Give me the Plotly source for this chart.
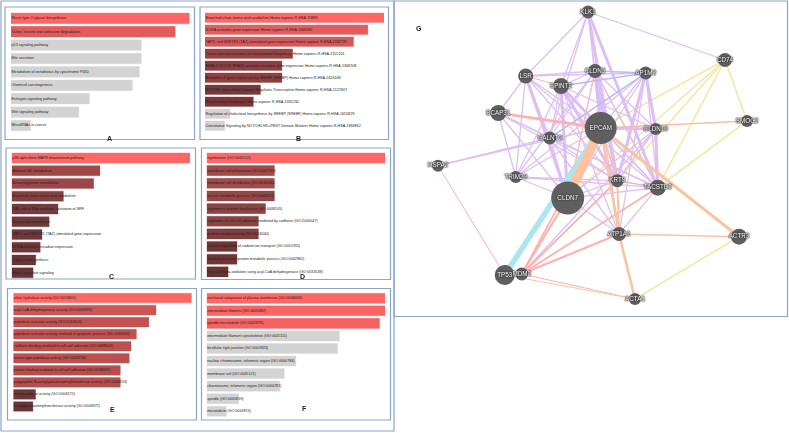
import plotly.graph_objects as go

W, H = 789, 433
RED = "#ff6666"
GREY = "#d3d3d3"

labels_a = ["Mucin type O-glycan biosynthesis", "Valine, leucine and isoleucine degradation", "p53 signaling pathway", "Bile secretion", "Metabolism of xenobiotics by cytochrome P450", "Chemical carcinogenesis", "Estrogen signaling pathway", "Wnt signaling pathway", "MicroRNAs in cancer"]
values_a = [100, 92, 73, 73, 72, 68, 44, 38, 11]
colors_a = [RED, "#e25c5c"] + [GREY] * 7

labels_b = ["Branched-chain amino acid catabolism Homo sapiens R-HSA-70895", "RORA activates gene expression Homo sapiens R-HSA-1368082", "YAP1- and WWTR1 (TAZ)-stimulated gene expression Homo sapiens R-HSA-2032785", "Transcriptional activation of mitochondrial biogenesis Homo sapiens R-HSA-2151201", "BMAL1:CLOCK,NPAS2 activates circadian gene expression Homo sapiens R-HSA-1368108", "Activation of gene expression by SREBF (SREBP) Homo sapiens R-HSA-2426168", "NOTCH1 Intracellular Domain Regulates Transcription Homo sapiens R-HSA-2122947", "Mitochondrial biogenesis Homo sapiens R-HSA-1592230", "Regulation of cholesterol biosynthesis by SREBP (SREBF) Homo sapiens R-HSA-1655829", "Constitutive Signaling by NOTCH1 HD+PEST Domain Mutants Homo sapiens R-HSA-1894862"]
values_b = [100, 91, 83, 49, 43, 43, 31, 27, 14, 11]
colors_b = [RED, "#e35d5e", "#d45859", "#9a4345", "#8c4044", "#8f3f40", "#753a3d", "#7d3538", GREY, GREY]

labels_c = ["p38 alpha/beta MAPK downstream pathway", "Aflatoxin B1 metabolism", "Benzo(a)pyrene metabolism", "Branched-chain amino acid catabolism", "MAL role in Rho-mediated activation of SRF", "Eicosanoid metabolism", "YAP1- and WWTR1 (TAZ)-stimulated gene expression", "RORA activates circadian expression", "O-glycan biosynthesis", "Alpha-synuclein signaling"]
values_c = [100, 49.5, 46, 29, 26, 21, 17, 16, 13.5, 12]
colors_c = [RED, "#a04848", "#9b4648", "#84403f", "#753c3e", "#703a3a", "#6f3739", "#6e3738", "#6b3537", "#683436"]

labels_d = ["myelination (GO:0042552)", "membrane raft polarization (GO:0001766)", "membrane raft distribution (GO:0031580)", "leucine metabolic process (GO:0006551)", "asymmetric protein localization (GO:0008105)", "regulation of cell-cell adhesion mediated by cadherin (GO:2000047)", "protein autoprocessing (GO:0016540)", "positive regulation of sodium ion transport (GO:0010765)", "amyloid precursor protein metabolic process (GO:0042982)", "fatty acid beta-oxidation using acyl-CoA dehydrogenase (GO:0033539)"]
values_d = [100, 38, 38, 38, 33, 29, 29, 17, 17, 12]
colors_d = [RED, "#a04a4a", "#a04a4a", "#964646", "#8a4444", "#884343", "#7f3f3f", "#703636", "#703636", "#683434"]

labels_e = ["ether hydrolase activity (GO:0016801)", "acyl-CoA dehydrogenase activity (GO:0003995)", "peptidase activator activity (GO:0016504)", "peptidase activator activity involved in apoptotic process (GO:0016505)", "cadherin binding involved in cell-cell adhesion (GO:0098641)", "serine-type peptidase activity (GO:0008236)", "protein binding involved in cell-cell adhesion (GO:0098632)", "polypeptide N-acetylgalactosaminyltransferase activity (GO:0004653)", "endopeptidase activity (GO:0004175)", "acetylglucosaminyltransferase activity (GO:0008375)"]
values_e = [100, 80, 76, 69, 66, 65, 60, 60, 12.5, 11]
colors_e = [RED, "#cc5656", "#c25252", "#c25050", "#bd4f4f", "#bd4f4f", "#b84d4d", "#b84d4d", "#6e3739", "#6a3436"]

labels_f = ["anchored component of plasma membrane (GO:0046658)", "intermediate filament (GO:0005882)", "spindle microtubule (GO:0005876)", "intermediate filament cytoskeleton (GO:0045111)", "bicellular tight junction (GO:0005923)", "nuclear chromosome, telomeric region (GO:0000784)", "membrane raft (GO:0045121)", "chromosome, telomeric region (GO:0000781)", "spindle (GO:0005819)", "microtubule (GO:0005874)"]
values_f = [100, 100, 97, 74.5, 73.5, 50, 43.5, 41, 18, 11]
colors_f = [RED, "#f96464", "#f56262"] + [GREY] * 7

panels = [
    (labels_a, values_a, colors_a, 11, 189.5, 18.3, 13.4, "A", 105, 133, (5, 7, 194.5, 139.5)),
    (labels_b, values_b, colors_b, 205, 384, 17.7, 12.0, "B", 298, 133, (200, 7, 388.5, 139.5)),
    (labels_c, values_c, colors_c, 11.7, 190, 158, 12.75, "C", 107, 276, (6, 148, 195.5, 279)),
    (labels_d, values_d, colors_d, 206.7, 385, 158, 12.65, "D", 302, 276, (201.5, 148, 390.5, 279.5)),
    (labels_e, values_e, colors_e, 13.3, 191.7, 298, 12.05, "E", 108, 415, (7.5, 288.5, 196.5, 420)),
    (labels_f, values_f, colors_f, 206.7, 385, 298.3, 12.55, "F", 304, 414, (201.5, 288.5, 390.5, 420)),
]

node_names = ["KLK1", "LSR", "SPINT2", "BCAP31", "GALNT3", "CLDN3", "AP1M2", "CD74", "SMOC2", "EPCAM", "CLDN10", "HSPA2", "TRIM29", "CLDN7", "TP53", "MDM2", "KRT8", "TACSTD2", "ATP1A1", "ACTR3", "ACTA1"]
node_x = [588, 525.7, 561, 498.3, 549.7, 595, 645.7, 725, 747, 600.7, 655.7, 438, 515.7, 567.7, 504.7, 521.7, 617.3, 657.7, 619, 739, 635]
node_y = [12, 76, 86, 113, 138, 71, 73, 60, 121, 128, 129, 165.7, 177, 198, 275, 274, 180.7, 187.7, 234, 236.7, 299]
node_d = [13, 15, 16, 16, 13, 14, 13, 14, 12, 32, 12, 12, 12, 33, 20, 13, 13, 16, 14, 16, 12]

purple_edges = [("KLK1","LSR"),("KLK1","SPINT2"),("KLK1","GALNT3"),("KLK1","CD74"),("KLK1","EPCAM"),("KLK1","KRT8"),("KLK1","CLDN3"),("KLK1","TACSTD2"),("LSR","BCAP31"),("LSR","CLDN3"),("LSR","AP1M2"),("LSR","EPCAM"),("LSR","CLDN7"),("LSR","KRT8"),("LSR","GALNT3"),("LSR","TACSTD2"),("LSR","TRIM29"),("SPINT2","CLDN3"),("SPINT2","AP1M2"),("SPINT2","EPCAM"),("SPINT2","CLDN7"),("SPINT2","KRT8"),("SPINT2","TACSTD2"),("SPINT2","GALNT3"),("SPINT2","ATP1A1"),("SPINT2","TRIM29"),("SPINT2","CLDN10"),("BCAP31","GALNT3"),("BCAP31","CLDN7"),("BCAP31","KRT8"),("BCAP31","TACSTD2"),("BCAP31","TRIM29"),("HSPA2","EPCAM"),("HSPA2","GALNT3"),("GALNT3","CLDN3"),("GALNT3","AP1M2"),("GALNT3","KRT8"),("GALNT3","TACSTD2"),("GALNT3","CLDN7"),("GALNT3","ATP1A1"),("CLDN3","EPCAM"),("CLDN3","KRT8"),("CLDN3","CLDN7"),("CLDN3","TACSTD2"),("CLDN3","AP1M2"),("CLDN3","CLDN10"),("CLDN3","TRIM29"),("CLDN3","ATP1A1"),("AP1M2","CLDN10"),("AP1M2","TACSTD2"),("AP1M2","KRT8"),("AP1M2","CLDN7"),("AP1M2","EPCAM"),("AP1M2","ATP1A1"),("AP1M2","TRIM29"),("CLDN10","TACSTD2"),("CLDN10","EPCAM"),("CLDN10","KRT8"),("CLDN10","CLDN7"),("TRIM29","CLDN7"),("TRIM29","EPCAM"),("TRIM29","KRT8"),("TRIM29","TACSTD2"),("KRT8","TACSTD2"),("KRT8","CLDN7"),("EPCAM","TACSTD2"),("CLDN7","TACSTD2"),("ATP1A1","TACSTD2"),("ATP1A1","MDM2"),("MDM2","CLDN10"),("MDM2","KRT8"),("CLDN7","ATP1A1")]
thick_purple = {("SPINT2","EPCAM"),("CLDN3","EPCAM"),("KLK1","KRT8"),("KLK1","TACSTD2"),("CLDN3","KRT8"),("SPINT2","KRT8"),("SPINT2","CLDN7"),("CLDN10","TACSTD2"),("AP1M2","CLDN10"),("CLDN10","EPCAM"),("AP1M2","KRT8"),("LSR","CLDN7")}
purple_widths = [3 if e in thick_purple else 1.3 for e in purple_edges]
yellow_edges = [("CD74","EPCAM"),("CD74","SMOC2"),("CD74","TACSTD2"),("SMOC2","TACSTD2"),("SMOC2","EPCAM"),("ACTR3","ACTA1"),("CLDN3","TACSTD2"),("CD74","KRT8"),("CLDN10","KRT8"),("CD74","CLDN7")]
blue_edges = [("CLDN3","AP1M2"),("AP1M2","GALNT3"),("SPINT2","AP1M2")]
pink_edges = [("LSR","SPINT2"),("HSPA2","TP53"),("CLDN7","MDM2"),("ATP1A1","MDM2"),("MDM2","TACSTD2"),("MDM2","ACTA1"),("MDM2","KRT8"),("EPCAM","MDM2"),("SMOC2","EPCAM"),("BCAP31","EPCAM"),("KRT8","TACSTD2")]
pink_widths = [1, 1, 2.2, 2, 1.8, 1, 1.8, 1.8, 1, 2.8, 1]
orange_edges = [("EPCAM","CLDN7"),("EPCAM","ACTR3"),("EPCAM","ATP1A1"),("EPCAM","KRT8"),("ATP1A1","ACTR3"),("ATP1A1","ACTA1"),("KRT8","ATP1A1"),("TP53","ACTA1"),("CLDN3","CLDN7")]
orange_widths = [9, 3, 2.5, 2, 1.5, 2.6, 2, 1, 1]
cyan_edges = [("TP53","EPCAM")]
cyan_widths = [5.5]

fig = go.Figure()
layout = dict(
    width=W, height=H, margin=dict(l=0, r=0, t=0, b=0, pad=0),
    paper_bgcolor="white", plot_bgcolor="rgba(0,0,0,0)", showlegend=False,
)
FRAME = "#8ba6c6"
shapes = []
annotations = []

def frame(x0, y0, x1, y1, w=1.2):
    shapes.append(dict(type="rect", xref="paper", yref="paper", x0=x0 / W, x1=x1 / W,
                       y0=1 - y1 / H, y1=1 - y0 / H, line=dict(color=FRAME, width=w), layer="below"))

def pale(c):
    r, g, b = int(c[1:3], 16), int(c[3:5], 16), int(c[5:7], 16)
    return f"rgba({r},{g},{b},0.3)"

frame(1, 1, 394, 431)
frame(394, 1, 787.5, 316.5)

for i, (labs, vals, cols, xs, xe, yc, step, letter, lx, ly, box) in enumerate(panels, start=1):
    frame(*box)
    n = len(labs)
    top = yc - step / 2
    bottom = top + n * step
    xn = "x" if i == 1 else f"x{i}"
    yn = "y" if i == 1 else f"y{i}"
    cats = list(range(n))
    fig.add_trace(go.Bar(x=vals, y=cats, orientation="h", width=0.8, xaxis=xn, yaxis=yn,
                         marker=dict(color=cols, line=dict(width=1, color=[pale(c) for c in cols])), hoverinfo="skip"))
    fig.add_trace(go.Scatter(x=[0.3] * n, y=cats, text=labs, mode="text", textposition="middle right",
                             textfont=dict(family="Liberation Sans", size=3.7, color="#222222"),
                             xaxis=xn, yaxis=yn, cliponaxis=False, hoverinfo="skip"))
    layout[("xaxis" if i == 1 else f"xaxis{i}")] = dict(domain=[xs / W, xe / W], range=[0, 100], visible=False, fixedrange=True, anchor=yn)
    layout[("yaxis" if i == 1 else f"yaxis{i}")] = dict(domain=[1 - bottom / H, 1 - top / H], range=[n - 0.5, -0.5], visible=False, fixedrange=True, anchor=xn)
    annotations.append(dict(text=f"<b>{letter}</b>", xref="paper", yref="paper", x=lx / W, y=1 - ly / H,
                            showarrow=False, font=dict(family="Liberation Sans", size=7, color="#222222")))

annotations.append(dict(text="<b>G</b>", xref="paper", yref="paper", x=419 / W, y=1 - 23 / H,
                        showarrow=False, font=dict(family="Liberation Sans", size=7, color="#222222")))

pos = {n: (x, y) for n, x, y in zip(node_names, node_x, node_y)}

def add_edges(edges, color, widths, opacity=1.0):
    groups = {}
    for e, w in zip(edges, widths):
        groups.setdefault(w, []).append(e)
    for w, es in groups.items():
        xs, ys = [], []
        for a, b in es:
            xs += [pos[a][0], pos[b][0], None]
            ys += [pos[a][1], pos[b][1], None]
        fig.add_trace(go.Scatter(x=xs, y=ys, mode="lines", line=dict(color=color, width=w),
                                 opacity=opacity, xaxis="x7", yaxis="y7", hoverinfo="skip"))

add_edges(yellow_edges, "#f3e8a6", [1.6] * len(yellow_edges))
add_edges(purple_edges, "#dcbcf2", purple_widths, 0.95)
add_edges(blue_edges, "#aebdf6", [1.2] * len(blue_edges))
add_edges(cyan_edges, "#a9e6f2", cyan_widths)
add_edges(pink_edges, "#fdb2ae", pink_widths)
add_edges(orange_edges, "#fbc3a4", orange_widths)

fig.add_trace(go.Scatter(x=node_x, y=node_y, mode="markers",
                         marker=dict(size=node_d, color="#5f5f5f", opacity=1, line=dict(width=0)),
                         xaxis="x7", yaxis="y7", cliponaxis=False, hoverinfo="skip"))
fig.add_trace(go.Scatter(x=node_x, y=node_y, mode="text", text=node_names,
                         textposition="middle center",
                         textfont=dict(family="Liberation Sans", size=6.3, color="#f4f4f4",
                                       shadow="0 0 1px #444, 0 0 1px #444, 0 0 1px #444, 0 0 2px #444, 0 0 2px #444"),
                         xaxis="x7", yaxis="y7", cliponaxis=False, hoverinfo="skip"))
layout["xaxis7"] = dict(domain=[394 / W, 788 / W], range=[394, 788], visible=False, fixedrange=True, anchor="y7")
layout["yaxis7"] = dict(domain=[1 - 317 / H, 1 - 1 / H], range=[317, 1], visible=False, fixedrange=True, anchor="x7")

fig.update_layout(**layout, shapes=shapes, annotations=annotations)
fig.write_html("out.html", config={"displayModeBar": False},
               post_script="document.body.style.margin='0';document.body.style.overflow='hidden';")
